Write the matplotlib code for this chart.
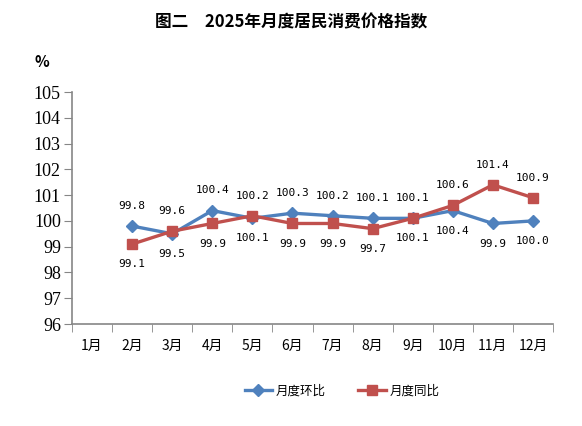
import matplotlib.pyplot as plt
from matplotlib.ticker import FixedLocator

plt.rcParams['font.family'] = ['Noto Sans CJK SC', 'DejaVu Sans']

months = ["1月", "2月", "3月", "4月", "5月", "6月", "7月", "8月", "9月", "10月", "11月", "12月"]
# 2月起有数据
mom = [None, 99.8, 99.5, 100.4, 100.1, 100.3, 100.2, 100.1, 100.1, 100.4, 99.9, 100.0]
yoy = [None, 99.1, 99.6, 99.9, 100.2, 99.9, 99.9, 99.7, 100.1, 100.6, 101.4, 100.9]
yticks = [96, 97, 98, 99, 100, 101, 102, 103, 104, 105]

blue = "#4F81BD"
red = "#C0504D"
axis_gray = "#868686"


def main():
    fig = plt.figure(figsize=(5.82, 4.26), dpi=100)
    ax = fig.add_axes([0.1237, 0.2394, 0.8265, 0.5446])

    xs = [i for i, v in enumerate(mom) if v is not None]
    mom_v = [mom[i] for i in xs]
    yoy_v = [yoy[i] for i in xs]

    ax.plot(xs, mom_v, color=blue, lw=2.4, marker="D", ms=6.5, label="月度环比", zorder=3)
    ax.plot(xs, yoy_v, color=red, lw=2.4, marker="s", ms=7.5, label="月度同比", zorder=4)

    for x, a, b in zip(xs, mom_v, yoy_v):
        a_up = a >= b
        for val, up in ((a, a_up), (b, not a_up)):
            ax.annotate(f"{val:.1f}", (x, val), xytext=(0, 14.5 if up else -14.5),
                        textcoords="offset points", ha="center", va="center",
                        fontsize=8, family="DejaVu Sans Mono", color="black")

    ax.set_xlim(-0.5, 11.5)
    ax.set_ylim(96, 105)
    ax.set_yticks(yticks)
    ax.set_yticklabels([str(t) for t in yticks], family="Liberation Serif", fontsize=13)
    ax.set_xticks(range(len(months)))
    ax.set_xticklabels(months, fontsize=10)
    ax.xaxis.set_minor_locator(FixedLocator([i + 0.5 for i in range(-1, 12)]))
    ax.tick_params(axis="x", which="major", length=0, pad=11)
    ax.tick_params(axis="x", which="minor", length=6, color=axis_gray, direction="out")
    ax.tick_params(axis="y", length=6, color=axis_gray, pad=2)

    for s in ("top", "right"):
        ax.spines[s].set_visible(False)
    for s in ("left", "bottom"):
        ax.spines[s].set_color(axis_gray)
        ax.spines[s].set_linewidth(1.2)

    fig.text(0.5, 0.948, "图二　2025年月度居民消费价格指数", ha="center", va="center",
             fontsize=12, fontweight="bold")
    fig.text(0.072, 0.855, "%", ha="center", va="center", fontsize=11, fontweight="bold")

    fig.legend(loc="center", bbox_to_anchor=(0.588, 0.082), ncol=2, frameon=False,
               fontsize=9, handlelength=2.2, columnspacing=2.6, handletextpad=0.3)

    fig.savefig("out.png", dpi=100)


if __name__ == "__main__":
    main()
